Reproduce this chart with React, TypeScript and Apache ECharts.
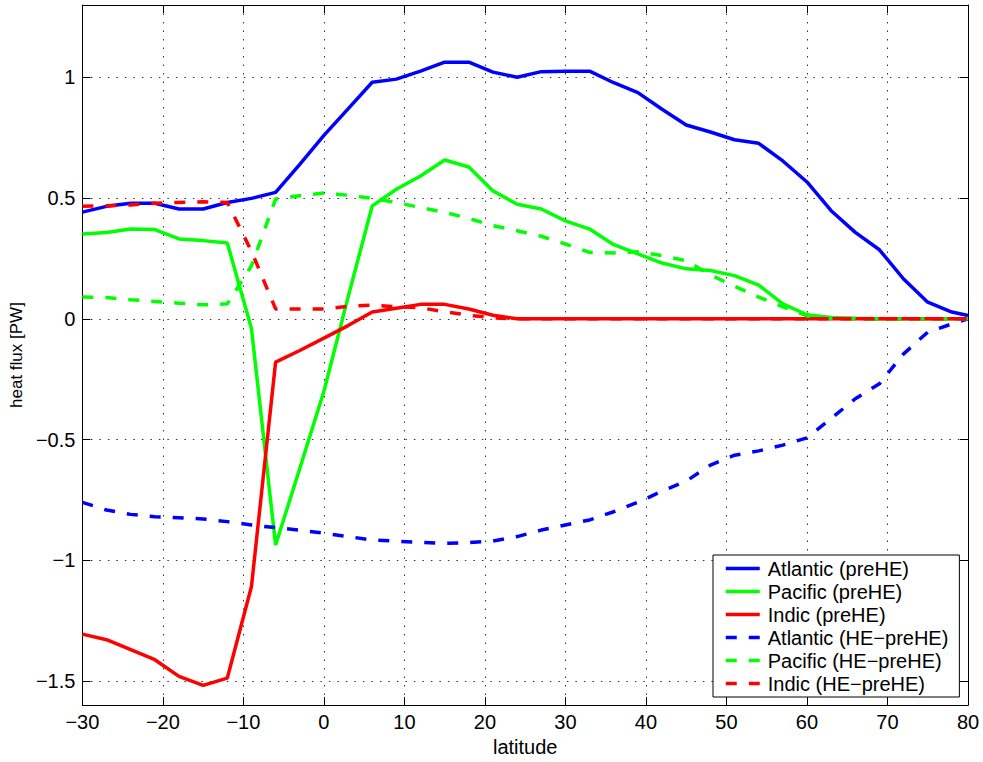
import React, { useEffect, useRef } from "react";
import * as echarts from "echarts";

const latitudes = [
  -30, -27, -24, -21, -18, -15, -12, -9, -6, -3, 0, 3, 6, 9, 12, 15, 18, 21, 24,
  27, 30, 33, 36, 39, 42, 45, 48, 51, 54, 57, 60, 63, 66, 69, 72, 75, 78, 80,
];

const atlanticPre = [
  0.442, 0.466, 0.479, 0.479, 0.455, 0.455, 0.482, 0.499, 0.524, 0.64, 0.76,
  0.87, 0.98, 0.993, 1.026, 1.063, 1.063, 1.022, 1.001, 1.024, 1.026, 1.026,
  0.978, 0.937, 0.868, 0.803, 0.774, 0.742, 0.727, 0.654, 0.567, 0.448, 0.358,
  0.286, 0.165, 0.069, 0.028, 0.014,
];

const pacificPre = [
  0.351, 0.358, 0.372, 0.37, 0.331, 0.324, 0.314, -0.04, -0.937, -0.62, -0.3,
  0.09, 0.468, 0.537, 0.592, 0.658, 0.629, 0.53, 0.475, 0.455, 0.406, 0.372,
  0.307, 0.269, 0.231, 0.207, 0.2, 0.179, 0.14, 0.062, 0.017, 0.006, 0.002, 0,
  0, 0, 0, 0,
];

const indicPre = [
  -1.306, -1.329, -1.37, -1.412, -1.481, -1.518, -1.488, -1.109, -0.179,
  -0.131, -0.08, -0.028, 0.028, 0.044, 0.06, 0.06, 0.041, 0.015, 0, 0, 0, 0, 0,
  0, 0, 0, 0, 0, 0, 0, 0, 0, 0, 0, 0, 0, 0, 0,
];

const atlanticDiff = [
  -0.76, -0.792, -0.81, -0.82, -0.824, -0.829, -0.84, -0.854, -0.865, -0.875,
  -0.888, -0.902, -0.916, -0.921, -0.926, -0.93, -0.927, -0.92, -0.902, -0.875,
  -0.854, -0.833, -0.799, -0.76, -0.714, -0.672, -0.606, -0.565, -0.547,
  -0.523, -0.493, -0.413, -0.331, -0.269, -0.145, -0.055, -0.021, 0,
];

const pacificDiff = [
  0.09, 0.088, 0.079, 0.072, 0.065, 0.058, 0.062, 0.22, 0.496, 0.51, 0.521,
  0.512, 0.499, 0.482, 0.461, 0.441, 0.416, 0.386, 0.365, 0.342, 0.31, 0.275,
  0.273, 0.278, 0.262, 0.241, 0.182, 0.135, 0.09, 0.05, 0.012, 0.002, 0, 0, 0,
  0, 0, 0,
];

const indicDiff = [
  0.466, 0.468, 0.472, 0.479, 0.482, 0.485, 0.482, 0.28, 0.041, 0.041, 0.041,
  0.052, 0.057, 0.05, 0.046, 0.029, 0.015, 0.004, 0, 0, 0, 0, 0, 0, 0, 0, 0, 0,
  0, 0, 0, 0, 0, 0, 0, 0, 0, 0,
];

const yTickValues = [-1.5, -1, -0.5, 0, 0.5, 1];

const seriesDefs = [
  { name: "Atlantic (preHE)", values: atlanticPre, color: "#0000ff", dashed: false },
  { name: "Pacific (preHE)", values: pacificPre, color: "#00ff00", dashed: false },
  { name: "Indic (preHE)", values: indicPre, color: "#ff0000", dashed: false },
  { name: "Atlantic (HE\u2212preHE)", values: atlanticDiff, color: "#0000ff", dashed: true },
  { name: "Pacific (HE\u2212preHE)", values: pacificDiff, color: "#00ff00", dashed: true },
  { name: "Indic (HE\u2212preHE)", values: indicDiff, color: "#ff0000", dashed: true },
];

const FONT = "'Liberation Sans', Arial, Helvetica, sans-serif";
const fmt = (v: number) => String(v).replace("-", "\u2212");

export default function App() {
  const ref = useRef<HTMLDivElement>(null);

  useEffect(() => {
    if (!ref.current) return;
    const chart = echarts.init(ref.current, undefined, { renderer: "svg" });

    const gridLine = { show: true, lineStyle: { color: "#333", width: 1, type: [1.5, 7] } };
    const axisLine = { show: true, onZero: false, lineStyle: { color: "#000", width: 1 } };
    const tick = { show: true, inside: true, length: 8, lineStyle: { color: "#000", width: 1 } };

    const option: any = {
      animation: false,
      backgroundColor: "#fff",
      textStyle: { fontFamily: FONT },
      grid: { left: 78, right: 15, top: 5, bottom: 55, containLabel: false },
      xAxis: [
        {
          type: "value",
          min: -30,
          max: 80,
          interval: 10,
          position: "bottom",
          name: "latitude",
          nameLocation: "middle",
          nameGap: 30,
          nameTextStyle: { fontSize: 20, color: "#000", fontFamily: FONT },
          axisLine,
          axisTick: tick,
          axisLabel: { fontSize: 20, color: "#000", margin: 7, formatter: fmt, fontFamily: FONT },
          splitLine: gridLine,
        },
        {
          type: "value",
          min: -30,
          max: 80,
          interval: 10,
          position: "top",
          axisLine,
          axisTick: tick,
          axisLabel: { show: false },
          splitLine: { show: false },
        },
      ],
      yAxis: [
        {
          type: "value",
          min: -1.6,
          max: 1.3,
          position: "left",
          name: "heat flux [PW]",
          nameLocation: "middle",
          nameGap: 51,
          nameTextStyle: { fontSize: 17, color: "#000", fontFamily: FONT },
          axisLine,
          axisTick: { ...tick, customValues: yTickValues },
          axisLabel: {
            fontSize: 20,
            color: "#000",
            margin: 7,
            formatter: fmt,
            customValues: yTickValues,
            fontFamily: FONT,
          },
          splitLine: gridLine,
        },
        {
          type: "value",
          min: -1.6,
          max: 1.3,
          position: "right",
          axisLine,
          axisTick: { ...tick, customValues: yTickValues },
          axisLabel: { show: false, customValues: yTickValues },
          splitLine: { show: false },
        },
      ],
      legend: {
        orient: "vertical",
        left: 713,
        top: 555,
        padding: [2, 11, 2, 11],
        itemWidth: 34,
        itemHeight: 10,
        itemGap: 0,
        backgroundColor: "#fff",
        borderColor: "#000",
        borderWidth: 1,
        borderRadius: 0,
        itemStyle: { opacity: 0 },
        lineStyle: { width: 3.5 },
        textStyle: {
          fontSize: 20,
          color: "#000",
          lineHeight: 23,
          padding: [0, 0, 0, 3],
          fontFamily: FONT,
        },
        data: seriesDefs.map((s) => s.name),
      },
      series: seriesDefs.map((s, i) => ({
        name: s.name,
        type: "line",
        xAxisIndex: 0,
        yAxisIndex: 0,
        symbol: "none",
        z: 2 + i * 0.01,
        data: latitudes.map((lat, k) => [lat, s.values[k]]),
        lineStyle: {
          color: s.color,
          width: 3.5,
          type: s.dashed ? [11, 12] : "solid",
        },
        itemStyle: { color: s.color },
      })),
    };

    chart.setOption(option);
    return () => chart.dispose();
  }, []);

  return (
    <div
      ref={ref}
      style={{ position: "absolute", left: 0, top: 0, width: 983, height: 762 }}
    />
  );
}
